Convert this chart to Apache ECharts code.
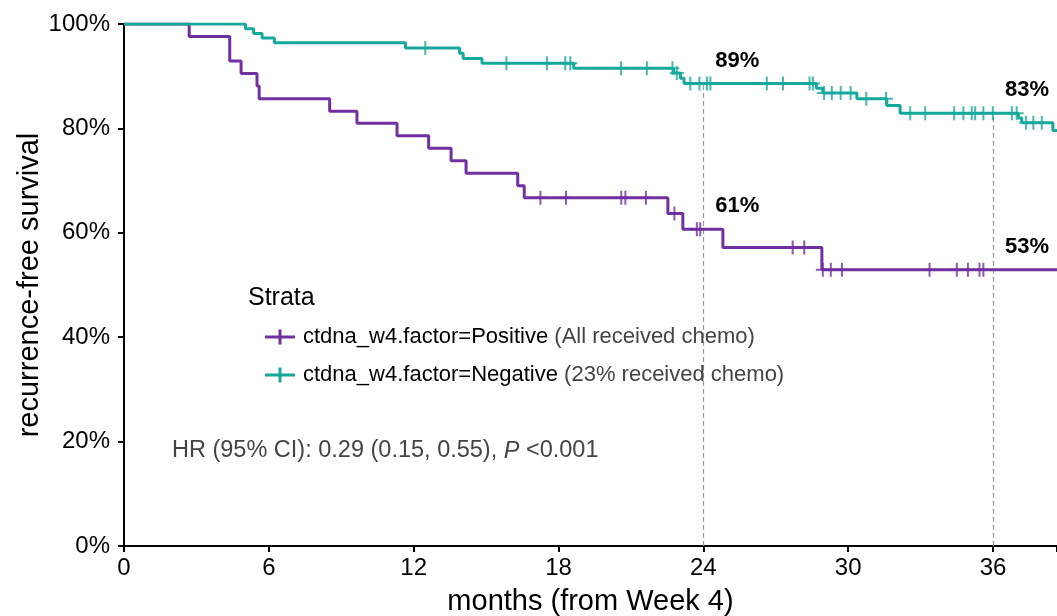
<!DOCTYPE html>
<html>
<head>
<meta charset="utf-8">
<script src="https://cdn.jsdelivr.net/npm/echarts@6/dist/echarts.min.js"></script>
<style>
  html, body { margin: 0; padding: 0; background: #fff; }
  #chart { width: 1057px; height: 616px; }
</style>
</head>
<body>
<div id="chart"></div>
<script>
// Kaplan–Meier recurrence-free survival by week-4 ctDNA status

// ctDNA positive group: event times (months) and survival (%) after each event
const posEventTimes = [2.7, 4.38, 4.85, 5.51, 5.6, 8.52, 9.65, 11.31, 12.62, 13.55, 14.17, 16.31, 16.58, 22.53, 23.15, 24.81, 28.91];
const posSurvival   = [97.6, 92.9, 90.5, 88.1, 85.7, 83.3, 81.0, 78.6, 76.2, 73.8, 71.4, 69.0, 66.7, 63.7, 60.7, 57.2, 52.9];
const posCensorTimes = [17.25, 18.31, 20.6, 20.77, 21.62, 22.8, 23.73, 23.87, 27.7, 28.18, 28.95, 29.28, 29.74, 33.37, 34.5, 34.96, 35.44, 35.6];
const posLastFollowUp = 39.5;

// ctDNA negative group
const negEventTimes = [5.03, 5.37, 5.72, 6.23, 11.66, 13.9, 14.05, 14.83, 18.63, 22.77, 23.05, 23.2, 28.68, 28.95, 30.36, 31.6, 32.15, 37.05, 37.19, 38.48];
const negSurvival   = [99.1, 98.2, 97.3, 96.4, 95.4, 94.4, 93.4, 92.5, 91.5, 90.6, 89.6, 88.6, 87.7, 86.8, 85.7, 84.4, 82.9, 82.0, 81.1, 79.6];
const negCensorTimes = [12.48, 15.84, 17.52, 18.28, 18.49, 20.59, 21.66, 22.72, 22.9, 23.46, 23.84, 24.15, 24.29, 26.63, 27.3, 28.4, 28.54, 29.0, 29.32, 29.69, 30.1, 30.75, 31.57, 32.57, 33.19, 34.39, 34.77, 35.12, 35.26, 35.6, 35.99, 36.78, 36.98, 37.37, 37.67, 38.02];
const negLastFollowUp = 39.5;

// Landmark times marked with dashed guides and percentage labels
const landmarkTimes = [24, 36];

const seriesNames = ['ctdna_w4.factor=Positive', 'ctdna_w4.factor=Negative'];
const seriesNotes = ['(All received chemo)', '(23% received chemo)'];
const hrText = 'HR (95% CI): 0.29 (0.15, 0.55), ';
const pText = '<0.001';

const xTicks = [0, 6, 12, 18, 24, 30, 36];
const yTicks = [0, 20, 40, 60, 80, 100];

const colorPos = '#7030A0';
const colorNeg = '#16A99B';
const FONT = 'Liberation Sans, Arial, sans-serif';

function stepData(times, surv, last) {
  const d = [[0, 100]];
  times.forEach((t, i) => d.push([t, surv[i]]));
  d.push([last, surv[surv.length - 1]]);
  return d;
}
function survAt(times, surv, t) {
  let s = 100;
  for (let i = 0; i < times.length; i++) if (times[i] <= t) s = surv[i];
  return s;
}
function censorData(cTimes, times, surv) {
  return cTimes.map(t => [t, survAt(times, surv, t)]);
}

// censoring mark: a thin plus
const plusPath = 'path://M-1,-7H1V-1H7V1H1V7H-1V1H-7V-1H-1Z';
// legend key: line segment with a plus
const legendKey = 'path://M0,6H30V9H0Z M13.5,0H16.5V15H13.5Z';

const negAtLandmarks = landmarkTimes.map(t => survAt(negEventTimes, negSurvival, t));
const posAtLandmarks = landmarkTimes.map(t => survAt(posEventTimes, posSurvival, t));

const guideLines = landmarkTimes.map((t, i) => [
  { coord: [t, 0] },
  { coord: [t, negAtLandmarks[i]] }
]);

const landmarkPoints = [];
landmarkTimes.forEach((t, i) => {
  landmarkPoints.push([t, negAtLandmarks[i]]);
  landmarkPoints.push([t, posAtLandmarks[i]]);
});

const chart = echarts.init(document.getElementById('chart'), null, { renderer: 'canvas' });

chart.setOption({
  animation: false,
  backgroundColor: '#ffffff',
  textStyle: { fontFamily: FONT },
  grid: { left: 124, right: 0, top: 24, bottom: 70, containLabel: false, outerBoundsMode: 'none' },
  xAxis: {
    type: 'value',
    min: 0,
    max: 38.65,
    interval: 6,
    name: 'months (from Week 4)',
    nameLocation: 'middle',
    nameGap: 41,
    nameMoveOverlap: false,
    nameTextStyle: { fontSize: 29, color: '#000', fontFamily: FONT },
    axisLine: { onZero: false, lineStyle: { color: '#000', width: 2 } },
    axisTick: { show: true, length: 6, lineStyle: { color: '#000', width: 2 } },
    axisLabel: {
      fontSize: 24, color: '#000', margin: 10, fontFamily: FONT,
      formatter: v => (xTicks.indexOf(v) >= 0 ? String(v) : '')
    },
    splitLine: { show: false }
  },
  yAxis: {
    type: 'value',
    min: 0,
    max: 100,
    interval: 20,
    name: 'recurrence-free survival',
    nameLocation: 'middle',
    nameGap: 80,
    nameMoveOverlap: false,
    nameTextStyle: { fontSize: 29, color: '#000', fontFamily: FONT },
    axisLine: { show: true, onZero: false, lineStyle: { color: '#000', width: 2 } },
    axisTick: { show: true, length: 6, lineStyle: { color: '#000', width: 2 } },
    axisLabel: {
      fontSize: 24, color: '#000', margin: 14, fontFamily: FONT,
      formatter: v => (yTicks.indexOf(v) >= 0 ? v + '%' : '')
    },
    splitLine: { show: false }
  },
  legend: {
    orient: 'vertical',
    left: 260,
    top: 320,
    itemWidth: 30,
    itemHeight: 15,
    itemGap: 14,
    icon: legendKey,
    data: seriesNames,
    formatter: name => {
      const i = seriesNames.indexOf(name);
      return '{a|' + name + '}{b| ' + seriesNotes[i] + '}';
    },
    textStyle: {
      fontFamily: FONT,
      lineHeight: 24,
      rich: {
        a: { fontSize: 22, color: '#000', fontFamily: FONT, padding: [0, 0, 0, 3], lineHeight: 24 },
        b: { fontSize: 22, color: '#444', fontFamily: FONT, lineHeight: 24 }
      }
    }
  },
  graphic: [
    {
      type: 'text', left: 248, top: 286,
      style: { text: 'Strata', font: '25px ' + FONT, fill: '#000' }
    },
    {
      type: 'text', left: 172, top: 439,
      style: {
        text: '{n|' + hrText + '}{i|P}{n| ' + pText + '}',
        rich: {
          n: { font: '23.5px ' + FONT, fill: '#444' },
          i: { font: 'italic 23.5px ' + FONT, fill: '#444' }
        }
      }
    }
  ],
  series: [
    {
      name: seriesNames[0],
      type: 'line',
      step: 'end',
      showSymbol: false,
      data: stepData(posEventTimes, posSurvival, posLastFollowUp),
      lineStyle: { color: colorPos, width: 3 },
      itemStyle: { color: colorPos },
      z: 3
    },
    {
      name: seriesNames[1],
      type: 'line',
      step: 'end',
      showSymbol: false,
      data: stepData(negEventTimes, negSurvival, negLastFollowUp),
      lineStyle: { color: colorNeg, width: 3 },
      itemStyle: { color: colorNeg },
      z: 3,
      markLine: {
        silent: true,
        symbol: ['none', 'none'],
        label: { show: false },
        lineStyle: { color: '#9a9a9a', width: 1.2, type: [5, 3] },
        data: guideLines,
        z: 1
      }
    },
    {
      name: 'censorPos',
      type: 'scatter',
      symbol: plusPath,
      symbolSize: 14,
      data: censorData(posCensorTimes, posEventTimes, posSurvival),
      itemStyle: { color: colorPos },
      z: 4
    },
    {
      name: 'censorNeg',
      type: 'scatter',
      symbol: plusPath,
      symbolSize: 14,
      data: censorData(negCensorTimes, negEventTimes, negSurvival),
      itemStyle: { color: colorNeg },
      z: 4
    },
    {
      name: 'landmarks',
      type: 'scatter',
      symbolSize: 0,
      data: landmarkPoints,
      label: {
        show: true,
        position: 'inside',
        offset: [34, -23],
        formatter: p => Math.round(p.value[1]) + '%',
        fontSize: 22,
        fontWeight: 'bold',
        color: '#000',
        opacity: 1,
        fontFamily: FONT
      },
      z: 5
    }
  ]
});
</script>
</body>
</html>
